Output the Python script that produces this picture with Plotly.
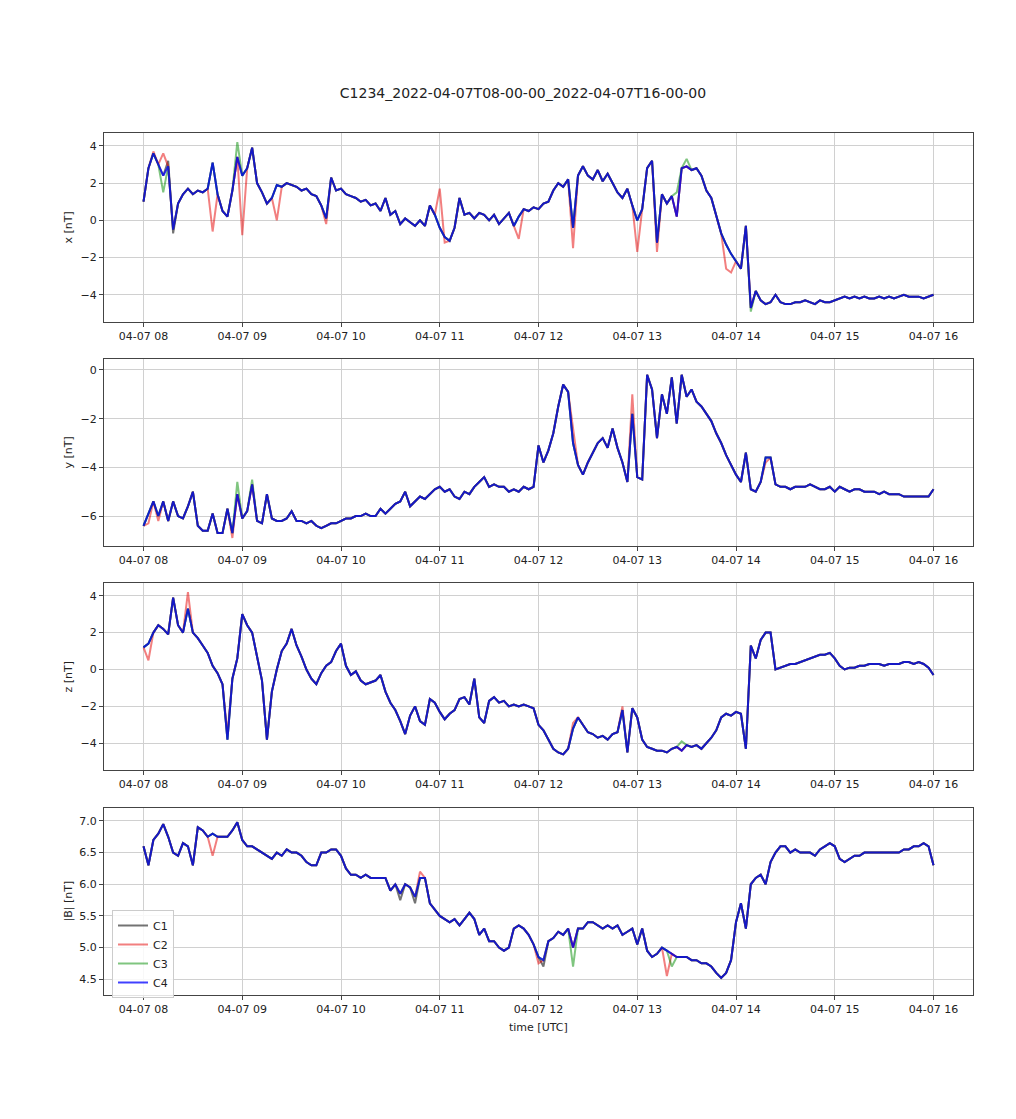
import pandas as pd
import plotly.graph_objects as go

TITLE = "C1234_2022-04-07T08-00-00_2022-04-07T16-00-00"
SPACECRAFT = ["C1", "C2", "C3", "C4"]
COLORS = ["rgba(0,0,0,0.55)", "rgba(230,0,0,0.5)", "rgba(0,140,0,0.5)", "rgba(0,0,255,0.75)"]
TICK_HOURS = ["2022-04-07 08:00", "2022-04-07 09:00", "2022-04-07 10:00", "2022-04-07 11:00",
              "2022-04-07 12:00", "2022-04-07 13:00", "2022-04-07 14:00", "2022-04-07 15:00",
              "2022-04-07 16:00"]
TICK_TEXT = ["04-07 08", "04-07 09", "04-07 10", "04-07 11", "04-07 12",
             "04-07 13", "04-07 14", "04-07 15", "04-07 16"]
Y_LABELS = ["x [nT]", "y [nT]", "z [nT]", "|B| [nT]"]

# sample times: every 3 minutes from 08:00 to 16:00
TIMES = pd.date_range("2022-04-07 08:00", "2022-04-07 16:00", freq="3min")

BX = [1.0, 2.8, 3.6, 3.0, 2.4, 2.9, -0.5, 0.9, 1.4, 1.7,
      1.4, 1.6, 1.5, 1.7, 3.1, 1.4, 0.5, 0.2, 1.6, 3.4,
      2.4, 2.8, 3.9, 2.0, 1.5, 0.9, 1.2, 1.9, 1.8, 2.0,
      1.9, 1.8, 1.6, 1.7, 1.4, 1.3, 0.8, 0.1, 2.3, 1.6,
      1.7, 1.4, 1.3, 1.2, 1.0, 1.1, 0.8, 0.9, 0.5, 1.2,
      0.3, 0.5, -0.2, 0.1, -0.1, -0.3, 0.0, -0.3, 0.8, 0.3,
      -0.4, -0.9, -1.1, -0.4, 1.2, 0.3, 0.4, 0.1, 0.4, 0.3,
      0.0, 0.3, -0.2, 0.1, 0.4, -0.3, 0.2, 0.6, 0.5, 0.7,
      0.6, 0.9, 1.0, 1.6, 2.0, 1.8, 2.2, -0.4, 2.4, 2.9,
      2.4, 2.2, 2.7, 2.1, 2.5, 2.0, 1.5, 1.2, 1.7, 0.8,
      0.0, 0.6, 2.8, 3.2, -1.2, 1.4, 0.9, 1.3, 0.2, 2.8,
      2.9, 2.7, 2.8, 2.4, 1.6, 1.2, 0.3, -0.7, -1.3, -1.8,
      -2.2, -2.6, -0.3, -4.7, -3.8, -4.3, -4.5, -4.4, -4.0, -4.4,
      -4.5, -4.5, -4.4, -4.4, -4.3, -4.4, -4.5, -4.3, -4.4, -4.4,
      -4.3, -4.2, -4.1, -4.2, -4.1, -4.2, -4.1, -4.2, -4.2, -4.1,
      -4.2, -4.1, -4.2, -4.1, -4.0, -4.1, -4.1, -4.1, -4.2, -4.1,
      -4.0]

BY = [-6.4, -5.9, -5.4, -6.0, -5.4, -6.2, -5.4, -6.0, -6.1, -5.6,
      -5.0, -6.4, -6.6, -6.6, -5.9, -6.7, -6.7, -5.7, -6.7, -5.1,
      -6.1, -5.8, -4.7, -6.2, -6.3, -5.1, -6.1, -6.2, -6.2, -6.1,
      -5.8, -6.2, -6.2, -6.3, -6.2, -6.4, -6.5, -6.4, -6.3, -6.3,
      -6.2, -6.1, -6.1, -6.0, -6.0, -5.9, -6.0, -6.0, -5.7, -5.9,
      -5.7, -5.5, -5.4, -5.0, -5.6, -5.4, -5.2, -5.3, -5.1, -4.9,
      -4.8, -5.0, -4.9, -5.2, -5.3, -5.0, -5.1, -4.8, -4.6, -4.4,
      -4.8, -4.7, -4.8, -4.8, -5.0, -4.9, -5.0, -4.8, -4.9, -4.8,
      -3.1, -3.8, -3.3, -2.6, -1.5, -0.6, -0.9, -3.0, -3.9, -4.3,
      -3.8, -3.4, -3.0, -2.8, -3.2, -2.4, -3.2, -3.8, -4.6, -1.8,
      -4.4, -4.5, -0.2, -0.8, -2.8, -1.0, -1.8, -0.3, -2.2, -0.2,
      -1.1, -0.8, -1.3, -1.5, -1.8, -2.1, -2.6, -3.0, -3.5, -3.9,
      -4.3, -4.6, -3.4, -4.9, -5.0, -4.6, -3.6, -3.6, -4.7, -4.8,
      -4.8, -4.9, -4.8, -4.8, -4.8, -4.7, -4.8, -4.9, -4.9, -4.8,
      -5.0, -4.8, -4.9, -5.0, -4.9, -4.9, -5.0, -5.0, -5.0, -5.1,
      -5.0, -5.1, -5.1, -5.1, -5.2, -5.2, -5.2, -5.2, -5.2, -5.2,
      -4.9]

BZ = [1.2, 1.4, 2.0, 2.4, 2.2, 1.9, 3.9, 2.4, 2.0, 3.3,
      2.0, 1.7, 1.3, 0.9, 0.2, -0.2, -0.8, -3.8, -0.5, 0.6,
      3.0, 2.4, 2.0, 0.6, -0.6, -3.8, -1.2, 0.0, 1.0, 1.4,
      2.2, 1.3, 0.7, 0.0, -0.5, -0.8, -0.2, 0.2, 0.4, 1.0,
      1.4, 0.2, -0.3, -0.1, -0.6, -0.8, -0.7, -0.6, -0.3, -1.2,
      -1.8, -2.2, -2.8, -3.5, -2.5, -2.0, -2.8, -3.0, -1.6, -1.8,
      -2.3, -2.7, -2.4, -2.2, -1.6, -1.5, -1.9, -0.5, -2.6, -2.9,
      -1.7, -1.5, -1.8, -1.7, -2.0, -1.9, -2.0, -1.9, -2.0, -2.1,
      -3.0, -3.3, -3.8, -4.3, -4.5, -4.6, -4.3, -3.2, -2.6, -3.0,
      -3.4, -3.5, -3.7, -3.6, -3.8, -3.5, -3.4, -2.2, -4.5, -2.1,
      -2.6, -3.8, -4.2, -4.3, -4.4, -4.4, -4.5, -4.3, -4.2, -4.4,
      -4.1, -4.2, -4.1, -4.3, -4.0, -3.7, -3.3, -2.6, -2.4, -2.5,
      -2.3, -2.4, -4.3, 1.3, 0.6, 1.6, 2.0, 2.0, 0.0, 0.1,
      0.2, 0.3, 0.3, 0.4, 0.5, 0.6, 0.7, 0.8, 0.8, 0.9,
      0.6, 0.2, 0.0, 0.1, 0.1, 0.2, 0.2, 0.3, 0.3, 0.3,
      0.2, 0.3, 0.3, 0.3, 0.4, 0.4, 0.3, 0.4, 0.3, 0.1,
      -0.3]

BT = [6.6, 6.3, 6.7, 6.8, 6.95, 6.75, 6.5, 6.45, 6.65, 6.6,
      6.3, 6.9, 6.85, 6.75, 6.8, 6.75, 6.75, 6.75, 6.85, 6.98,
      6.7, 6.6, 6.6, 6.55, 6.5, 6.45, 6.4, 6.5, 6.45, 6.55,
      6.5, 6.5, 6.45, 6.35, 6.3, 6.3, 6.5, 6.5, 6.55, 6.55,
      6.45, 6.25, 6.15, 6.15, 6.1, 6.15, 6.1, 6.1, 6.1, 6.1,
      5.9, 6.0, 5.85, 6.0, 5.95, 5.8, 6.1, 6.1, 5.7, 5.6,
      5.5, 5.45, 5.4, 5.45, 5.35, 5.45, 5.55, 5.45, 5.2, 5.3,
      5.1, 5.1, 5.0, 4.95, 5.0, 5.3, 5.35, 5.3, 5.2, 5.05,
      4.85, 4.8, 5.1, 5.15, 5.25, 5.2, 5.3, 5.0, 5.3, 5.3,
      5.4, 5.4, 5.35, 5.3, 5.35, 5.3, 5.35, 5.2, 5.25, 5.3,
      5.05, 5.3, 4.95, 4.85, 4.9, 5.0, 4.95, 4.9, 4.85, 4.85,
      4.85, 4.8, 4.8, 4.75, 4.75, 4.7, 4.6, 4.52, 4.6, 4.8,
      5.4, 5.7, 5.3, 6.0, 6.1, 6.15, 6.0, 6.35, 6.5, 6.6,
      6.6, 6.5, 6.55, 6.5, 6.5, 6.5, 6.45, 6.55, 6.6, 6.65,
      6.6, 6.4, 6.35, 6.4, 6.45, 6.45, 6.5, 6.5, 6.5, 6.5,
      6.5, 6.5, 6.5, 6.5, 6.55, 6.55, 6.6, 6.6, 6.65, 6.6,
      6.3]

# per-spacecraft departures from the common trace (sample index -> value)
X_DEV = {"C1": {5: 3.2, 6: -0.7},
         "C2": {2: 3.7, 4: 3.6, 14: -0.6, 20: -0.8, 27: 0.0, 37: -0.2, 60: 1.7, 61: -1.2,
                76: -1.0, 87: -1.5, 100: -1.7, 104: -1.7, 118: -2.6, 119: -2.8},
         "C3": {4: 1.5, 19: 4.2, 108: 1.5, 110: 3.3, 123: -4.9},
         "C4": {}}
Y_DEV = {"C1": {},
         "C2": {1: -6.3, 3: -6.2, 18: -6.9, 87: -2.5, 99: -1.0, 126: -3.8},
         "C3": {19: -4.6, 22: -4.5},
         "C4": {}}
Z_DEV = {"C1": {},
         "C2": {1: 0.5, 9: 4.2, 17: -3.5, 87: -2.9, 97: -2.0},
         "C3": {109: -3.9},
         "C4": {}}
B_DEV = {"C1": {52: 5.75, 55: 5.7, 81: 4.7},
         "C2": {14: 6.45, 56: 6.2, 80: 4.75, 106: 4.55},
         "C3": {87: 4.7, 107: 4.7},
         "C4": {}}

PANELS = [(BX, X_DEV, [-5.46, 4.69], [-4, -2, 0, 2, 4]),
          (BY, Y_DEV, [-7.23, 0.45], [-6, -4, -2, 0]),
          (BZ, Z_DEV, [-5.45, 4.69], [-4, -2, 0, 2, 4]),
          (BT, B_DEV, [4.25, 7.205], [4.5, 5.0, 5.5, 6.0, 6.5, 7.0])]

# layout geometry (pixels); the page body adds an 8 px offset
OFF = 8
W, H = 1016 - 2 * OFF, 1119 - 2 * OFF
ML, MT = 104 - OFF, 133 - OFF
MR = W - (973 - OFF)
MB = H - (995 - OFF)
PW = W - ML - MR
PH = H - MT - MB
PANEL_PX = [(133, 322), (359, 546), (583, 770), (808, 995)]

fig = go.Figure()
FONT = dict(family="DejaVu Sans", size=11, color="#222")

for p, (base, dev, yr, yt) in enumerate(PANELS):
    ax = "" if p == 0 else str(p + 1)
    for s, (sc, col) in enumerate(zip(SPACECRAFT, COLORS)):
        vals = list(base)
        for k, v in dev[sc].items():
            vals[k] = v
        fig.add_trace(go.Scatter(
            x=TIMES, y=vals, mode="lines", name=sc,
            line=dict(color=col, width=2),
            showlegend=(p == 3), legendgroup=sc,
            xaxis="x" + ax, yaxis="y" + ax))
    top, bot = PANEL_PX[p]
    dom = [(H - MB - (bot - OFF)) / PH, (H - MB - (top - OFF)) / PH]
    dom = [max(0.0, min(1.0, d)) for d in dom]
    xa = dict(domain=[0, 1], range=["2022-04-07 07:36", "2022-04-07 16:24"],
              tickvals=TICK_HOURS, ticktext=TICK_TEXT, anchor="y" + ax,
              showgrid=True, gridcolor="#d0d0d0", gridwidth=1.2,
              showline=True, linecolor="#444", linewidth=1.2, mirror=True,
              ticks="outside", ticklen=4, tickcolor="#444", tickfont=FONT, zeroline=False)
    ya = dict(domain=dom, range=yr, tickvals=yt, anchor="x" + ax,
              tickformat=".1f" if p == 3 else "d",
              showgrid=True, gridcolor="#d0d0d0", gridwidth=1.2,
              showline=True, linecolor="#444", linewidth=1.2, mirror=True,
              ticks="outside", ticklen=4, tickcolor="#444", tickfont=FONT, zeroline=False)
    fig.layout["xaxis" + ax] = xa
    fig.layout["yaxis" + ax] = ya
    fig.add_annotation(text=Y_LABELS[p], textangle=-90, showarrow=False,
                       xref="paper", yref="paper", x=(68 - 104) / PW,
                       y=(dom[0] + dom[1]) / 2, xanchor="center", yanchor="middle",
                       font=dict(family="DejaVu Sans", size=11, color="#222"))

fig.add_annotation(text="time [UTC]", showarrow=False, xref="paper", yref="paper",
                   x=0.5, y=(995 - 1027) / PH, xanchor="center", yanchor="middle",
                   font=dict(family="DejaVu Sans", size=11, color="#222"))

fig.update_layout(
    width=W, height=H, autosize=False,
    margin=dict(l=ML, r=MR, t=MT, b=MB),
    paper_bgcolor="white", plot_bgcolor="white",
    title=dict(text=TITLE, x=(523 - OFF) / W, xanchor="center", y=1 - (93 - OFF) / H,
               yanchor="middle",
               font=dict(family="DejaVu Sans", size=14, color="#222")),
    legend=dict(x=(112 - 104) / PW, y=(995 - 910) / PH,
                xanchor="left", yanchor="top", bgcolor="rgba(255,255,255,0.85)",
                bordercolor="#cccccc", borderwidth=1,
                font=dict(family="DejaVu Sans", size=11, color="#222"),
                itemwidth=30, tracegroupgap=0),
    showlegend=True,
)

fig.write_html("out.html")
